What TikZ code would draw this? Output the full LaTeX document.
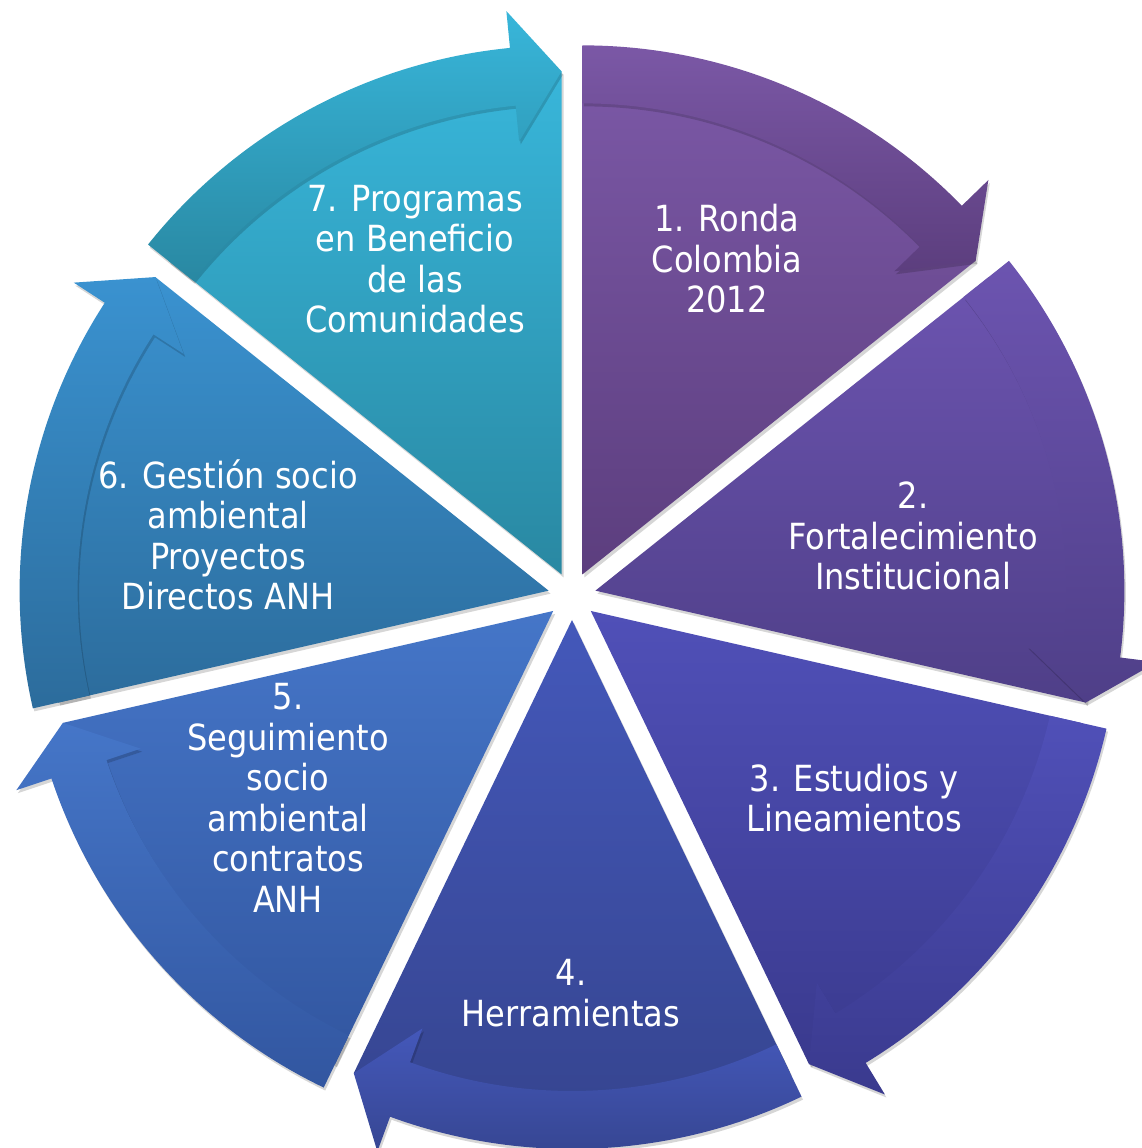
\documentclass[tikz,border=0pt]{standalone}
\usepackage{fontspec}
\setmainfont{DejaVu Sans}[FakeStretch=0.89]
\definecolor{w1t}{HTML}{7B58A6}\definecolor{w1b}{HTML}{5C3E7E}
\definecolor{w2t}{HTML}{6C54B0}\definecolor{w2b}{HTML}{4F3F88}
\definecolor{w3t}{HTML}{5050B8}\definecolor{w3b}{HTML}{3A3A8E}
\definecolor{w4t}{HTML}{4458BA}\definecolor{w4b}{HTML}{35448E}
\definecolor{w5t}{HTML}{4576C8}\definecolor{w5b}{HTML}{3256A0}
\definecolor{w6t}{HTML}{3A92D0}\definecolor{w6b}{HTML}{2C6C9C}
\definecolor{w7t}{HTML}{38B6DA}\definecolor{w7b}{HTML}{2988A2}
\tikzset{
  lbl/.style={text=white, align=center, font=\fontsize{36}{40.5}\selectfont, inner sep=0pt},
  shad/.style={fill=black, opacity=0.16},
}
\begin{document}
\begin{tikzpicture}[x=1pt,y=1pt]
\useasboundingbox (-572,-552) rectangle (570,596);
\clip (-572,-552) rectangle (570,596);
\fill[white] (-572,-552) rectangle (570,596);
% wedge shadows
\foreach \k in {1,...,7}{
  \pgfmathsetmacro\as{90-(\k-1)*360/7}
  \pgfmathsetmacro\ae{\as-360/7}
  \pgfmathsetmacro\bi{\as-180/7}
  \begin{scope}[shift={(\bi:24)}, shift={(2,-3)}]
    \fill[shad] (0,0) -- (\as:503) arc[start angle=\as,end angle=\ae,radius=503] -- cycle;
  \end{scope}
}
% wedges and arrows
\foreach \k/\ct/\cb in {1/w1t/w1b,2/w2t/w2b,3/w3t/w3b,4/w4t/w4b,5/w5t/w5b,6/w6t/w6b,7/w7t/w7b}{
  \pgfmathsetmacro\as{90-(\k-1)*360/7}
  \pgfmathsetmacro\ae{\as-360/7}
  \pgfmathsetmacro\bi{\as-180/7}
  \pgfmathsetmacro\an{\ae+5.6}
  \begin{scope}[shift={(\bi:24)}]
    \shade[top color=\ct, bottom color=\cb] (0,0) -- (\as:503) arc[start angle=\as,end angle=\ae,radius=503] -- cycle;
    \begin{scope}[shift={(1.5,-3)}]
      \fill[shad] (\as:471) -- (\as:529) arc[start angle=\as,end angle=\an,radius=529] -- (\an:566) -- (\ae:503) -- (\an:435) -- (\an:471) arc[start angle=\an,end angle=\as,radius=471] -- cycle;
    \end{scope}
    \shade[top color=\ct, bottom color=\cb] (\as:471) -- (\as:529) arc[start angle=\as,end angle=\an,radius=529] -- (\an:566) -- (\ae:503) -- (\an:435) -- (\an:471) arc[start angle=\an,end angle=\as,radius=471] -- cycle;
  \end{scope}
}
\node[lbl] (t1) at (155,337) {1. Ronda\\Colombia\\2012};
\node[lbl] (t2) at (341,60) {2.\\Fortalecimiento\\Institucional};
\node[lbl] (t3) at (282,-202) {3. Estudios y\\Lineamientos};
\node[lbl] (t4) at (-1,-397) {4.\\Herramientas};
\node[lbl] (t5) at (-284,-202) {5.\\Seguimiento\\socio\\ambiental\\contratos\\ANH};
\node[lbl] (t6) at (-344,61) {6. Gestión socio\\ambiental\\Proyectos\\Directos ANH};
\node[lbl] (t7) at (-157,337) {7. Programas\\en Beneficio\\de las\\Comunidades};
\end{tikzpicture}
\end{document}
